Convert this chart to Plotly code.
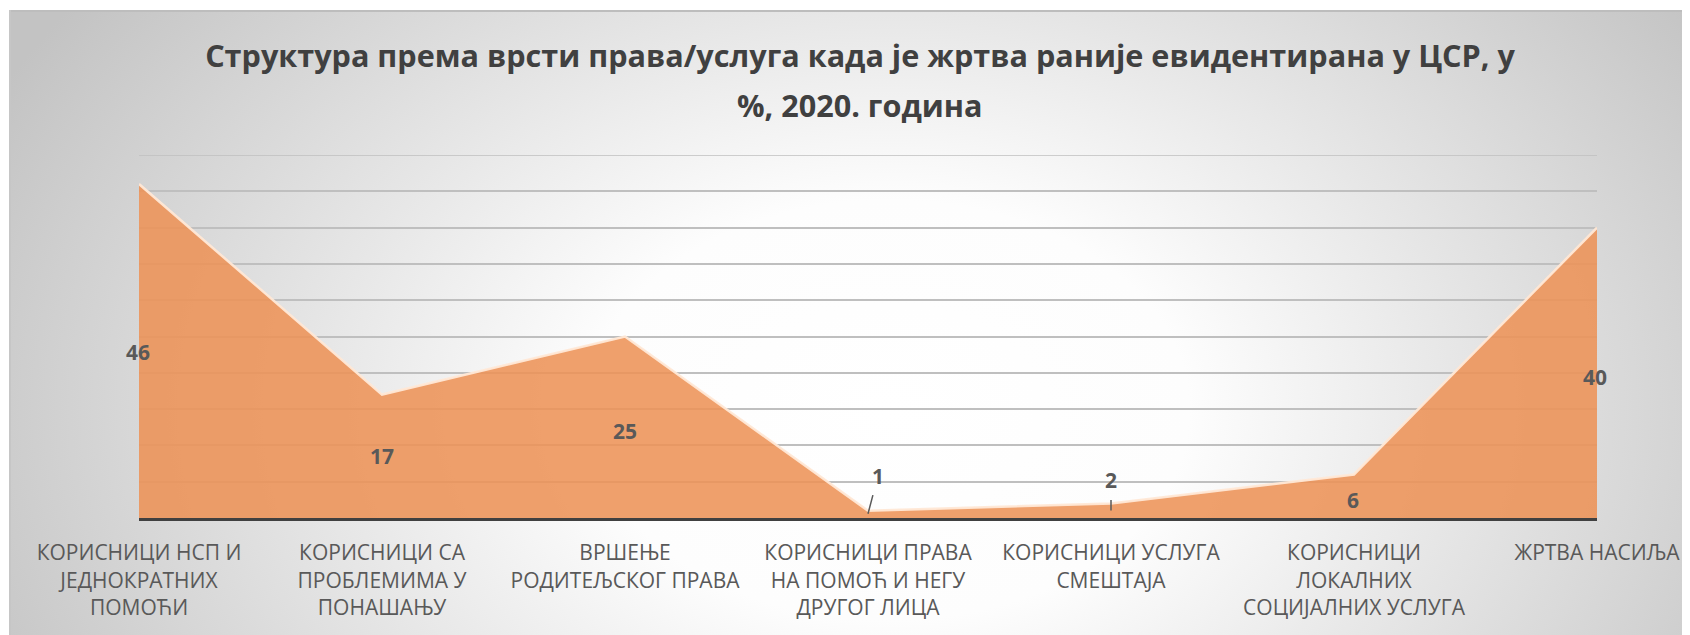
import base64
import plotly.graph_objects as go

# data
categories = [
    "КОРИСНИЦИ НСП И<br>ЈЕДНОКРАТНИХ<br>ПОМОЋИ",
    "КОРИСНИЦИ СА<br>ПРОБЛЕМИМА У<br>ПОНАШАЊУ",
    "ВРШЕЊЕ<br>РОДИТЕЉСКОГ ПРАВА",
    "КОРИСНИЦИ ПРАВА<br>НА ПОМОЋ И НЕГУ<br>ДРУГОГ ЛИЦА",
    "КОРИСНИЦИ УСЛУГА<br>СМЕШТАЈА",
    "КОРИСНИЦИ<br>ЛОКАЛНИХ<br>СОЦИЈАЛНИХ УСЛУГА",
    "ЖРТВА НАСИЉА",
]
values = [46, 17, 25, 1, 2, 6, 40]
title_line1 = "Структура према врсти права/услуга када је жртва раније евидентирана у ЦСР, у"
title_line2 = "%, 2020. година"

# page is 1690x635, the html body adds an 8px margin
OFF = 8
W, H = 1690 - OFF, 635 - OFF
ml, mr, mt, mb = 139 - OFF, 93, 155 - OFF, 117
pw, ph = W - ml - mr, H - mt - mb

# radial grey->white background as an svg image
fx, fy = 9 - OFF, 10 - OFF
fw, fh = W - fx, H - fy
svg = f'''<svg xmlns="http://www.w3.org/2000/svg" width="{fw}" height="{fh}" viewBox="0 0 {fw} {fh}">
<defs><radialGradient id="g" gradientUnits="userSpaceOnUse" cx="880" cy="400" r="1000"
 gradientTransform="translate(880 400) scale(1 0.7) translate(-880 -400)">
<stop offset="0" stop-color="#ffffff"/><stop offset="0.3" stop-color="#fdfdfd"/>
<stop offset="1" stop-color="#c3c3c3"/></radialGradient></defs>
<rect x="0" y="0" width="{fw}" height="{fh}" fill="url(#g)"/>
<line x1="0" y1="1" x2="{fw}" y2="1" stroke="#bdbdbd" stroke-width="2"/>
<line x1="1" y1="0" x2="1" y2="{fh}" stroke="#c6c6c6" stroke-width="2"/>
</svg>'''
bg_src = "data:image/svg+xml;base64," + base64.b64encode(svg.encode("utf-8")).decode()

fig = go.Figure()
fig.add_trace(go.Scatter(
    x=categories, y=values, mode="lines", fill="tozeroy",
    line=dict(color="rgba(255,232,214,0.95)", width=2.5),
    fillcolor="rgba(237,146,86,0.87)", hoverinfo="skip",
))

# data labels (offsets in px from each point)
label_font = dict(family="Open Sans", size=21, color="#595959", weight="bold")
offsets = [(-1, -168), (0, -61), (0, -94), None, None, (-1, -26), (-2, -149)]
for cat, v, off in zip(categories, values, offsets):
    if off is None:
        continue
    fig.add_annotation(x=cat, y=v, text=str(v), showarrow=False,
                       xshift=off[0], yshift=off[1], font=label_font)
# labels with leader lines
fig.add_annotation(x=categories[3], y=values[3], text=str(values[3]), font=label_font,
                   showarrow=True, arrowhead=0, arrowwidth=1.5, arrowcolor="#595959",
                   ax=10, ay=-38, yshift=-3, startstandoff=4)
fig.add_annotation(x=categories[4], y=values[4], text=str(values[4]), font=label_font,
                   showarrow=True, arrowhead=0, arrowwidth=1.5, arrowcolor="#595959",
                   ax=0, ay=-30, yshift=-7, startstandoff=4)

title_font = dict(family="Open Sans", size=30.6, color="#404040", weight="bold")
fig.add_annotation(text=title_line2, xref="paper", yref="paper",
                   x=(860 - OFF - ml) / pw, y=(H - mb - (105 - OFF)) / ph,
                   xanchor="center", yanchor="middle", showarrow=False, font=title_font)

# top gridline (y = 50) sits on the plot edge
fig.add_shape(type="line", xref="paper", yref="y", x0=0, x1=1, y0=50, y1=50,
              line=dict(color="#bfbfbf", width=1.5), layer="below")

fig.add_layout_image(dict(
    source=bg_src, xref="paper", yref="paper",
    x=(fx - ml) / pw, y=(H - mb - fy) / ph, sizex=fw / pw, sizey=fh / ph,
    xanchor="left", yanchor="top", sizing="stretch", layer="below",
))

fig.update_layout(
    width=W, height=H,
    margin=dict(l=ml, r=mr, t=mt, b=mb),
    paper_bgcolor="white", plot_bgcolor="rgba(0,0,0,0)",
    showlegend=False,
    title=dict(text=title_line1, x=(860 - OFF) / W, xanchor="center",
               y=1 - (56 - OFF) / H, yanchor="middle", font=title_font),
    xaxis=dict(type="category", range=[0, 6], showgrid=False, zeroline=False,
               showline=True, linecolor="#404040", linewidth=3, ticks="",
               ticklabelstandoff=14, automargin=False,
               tickfont=dict(family="Open Sans", size=21, color="#595959")),
    yaxis=dict(range=[0, 50], dtick=5, showgrid=True, gridcolor="#bfbfbf", gridwidth=1.5,
               zeroline=False, showticklabels=False, showline=False),
)

fig.write_html("out.html")
